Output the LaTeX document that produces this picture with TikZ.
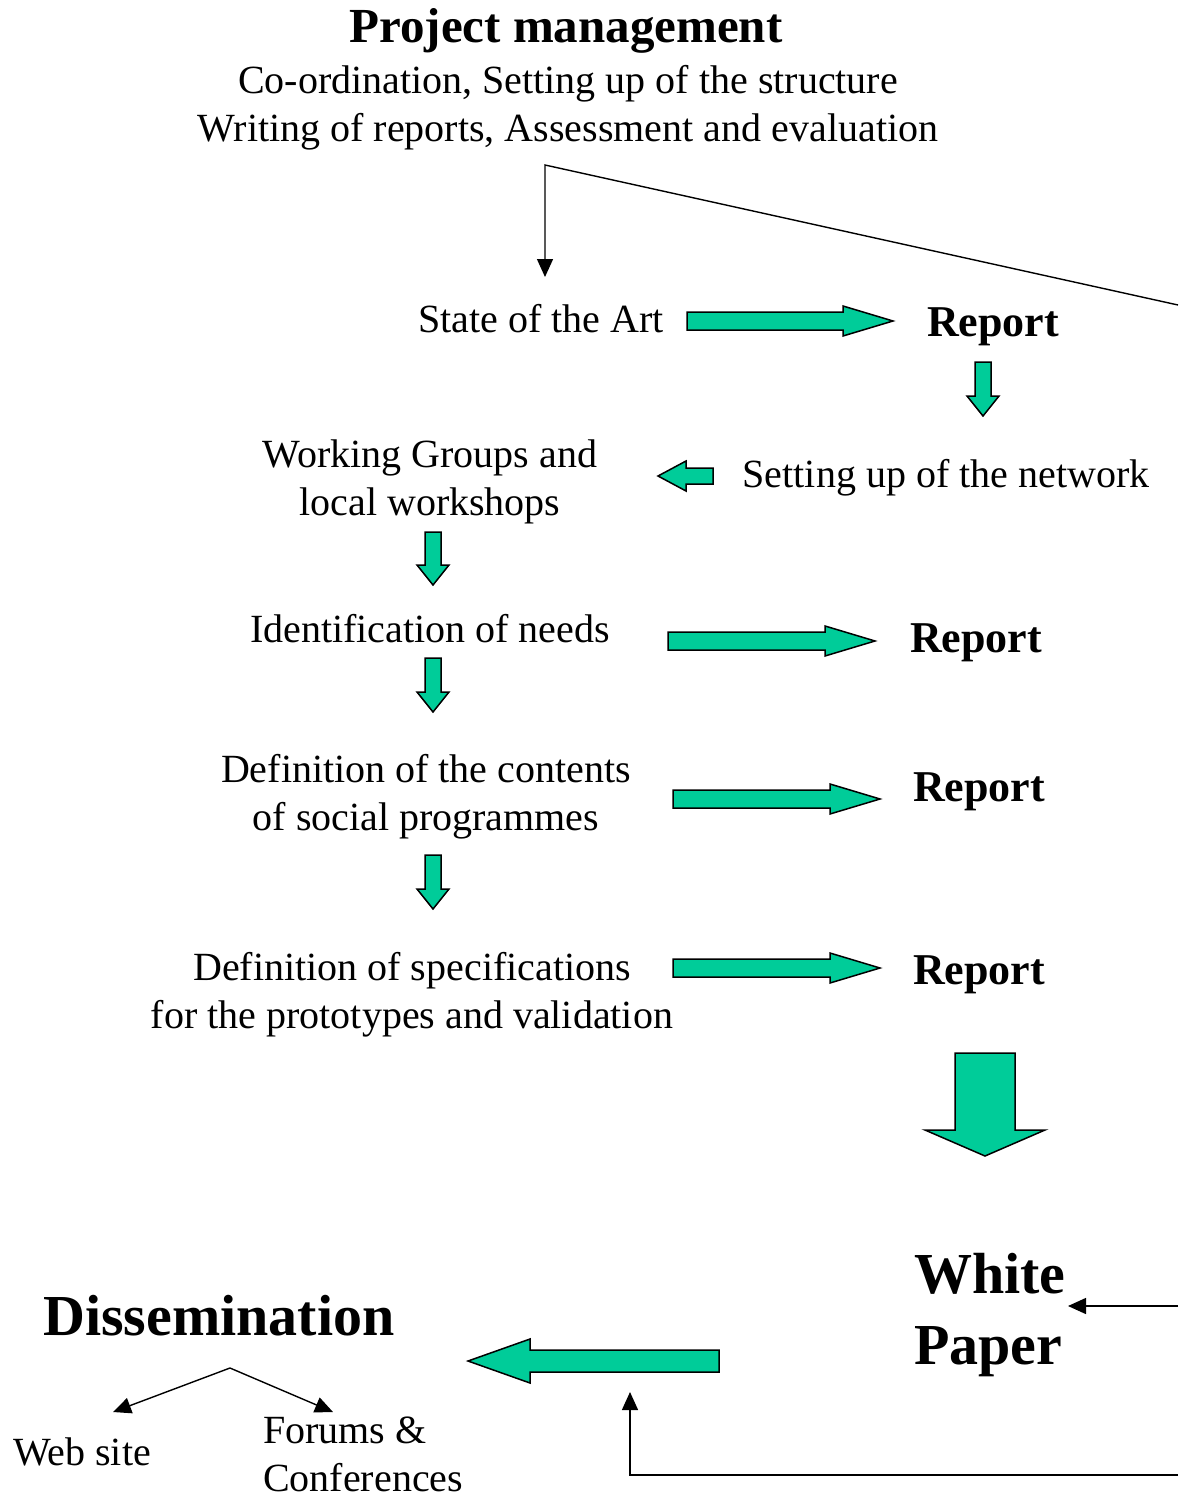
\documentclass[tikz,border=0pt]{standalone}
\usepackage{fontspec}
\setmainfont{Liberation Serif}
\usetikzlibrary{positioning,arrows.meta}
\definecolor{seagreen}{RGB}{0,204,153}
% green block arrow: tail, angle, length, head length, shaft half width, head half width
\newcommand{\garrow}[6]{\draw[blk,shift={#1},rotate=#2] (0,#5) -- ({#3-#4},#5) -- ({#3-#4},#6) -- (#3,0) -- ({#3-#4},-#6) -- ({#3-#4},-#5) -- (0,-#5) -- cycle;}

\begin{document}
\begin{tikzpicture}[x=1pt,y=-1pt,
			txt/.style={font=\fontsize{40}{48}\selectfont,inner sep=0pt,align=center},
			rep/.style={font=\fontsize{44}{50}\selectfont\bfseries,inner sep=0pt},
			big/.style={font=\fontsize{58}{71}\selectfont\bfseries,inner sep=0pt,align=left},
			blk/.style={draw=black,fill=seagreen,line width=1.5pt,line join=miter},
			con/.style={line width=1.4pt,-{Triangle[length=18pt,width=16pt]}}]
			\useasboundingbox (0,0) rectangle (1178,1499);
			% management block
			\node (pm) [anchor=base,font=\fontsize{49}{55}\selectfont\bfseries,inner sep=0pt] at (566,42) {Project management};
			\node (pmsub) [txt] at (568,108) {Co-ordination, Setting up of the structure\\Writing of reports, Assessment and evaluation};
			% work chain
			\node (sota) [txt,anchor=base] at (541,332) {State of the Art};
			\node (rep1) [rep,anchor=base] at (993,336) {Report};
			\node (net) [txt,anchor=base] at (946,487) {Setting up of the network};
			\node (wg) [txt] at (430,482) {Working Groups and\\local workshops};
			\node (needs) [txt,anchor=base] at (430,642) {Identification of needs};
			\node (rep2) [rep,anchor=base] at (976,652) {Report};
			\node (cont) [txt] at (426,797) {Definition of the contents\\of social programmes};
			\node (rep3) [rep,anchor=base] at (979,801) {Report};
			\node (spec) [txt] at (412,995) {Definition of specifications\\for the prototypes and validation};
			\node (rep4) [rep,anchor=base] at (979,984) {Report};
			\node (wp) [big,anchor=west] at (914,1315) {White\\Paper};
			\node (diss) [big,anchor=base] at (219,1335) {Dissemination};
			\node (web) [txt,anchor=base] at (82,1465) {Web site};
			\node (forum) [txt,anchor=west,align=left] at (263,1454) {Forums \&\\Conferences};

			% block arrows
			\garrow{(687,321)}{0}{206}{50}{9}{15}
			\garrow{(983,362)}{-90}{54}{20}{8}{16}
			\garrow{(713,476)}{180}{55}{28}{8}{15}
			\garrow{(433,532)}{-90}{53}{20}{8}{16}
			\garrow{(433,658)}{-90}{54}{20}{8}{16}
			\garrow{(433,855)}{-90}{54}{20}{8}{16}
			\garrow{(668,641)}{0}{207}{50}{9}{15}
			\garrow{(673,799)}{0}{207}{50}{9}{15}
			\garrow{(673,968)}{0}{207}{50}{9}{15}
			\garrow{(985,1053)}{-90}{103}{26}{30}{60}
			\garrow{(719,1361)}{180}{251}{62}{11}{22}

			% thin connectors
			\coordinate (edgetop) at (1178,305);
			\coordinate (bend) at (545,165);
			\coordinate (sotatip) at (545,277);
			\draw[con] (edgetop) -- (bend) -- (sotatip);
			\coordinate (edgewp) at (1178,1306);
			\draw[con] (edgewp) -- (1068,1306);
			\coordinate (edgelow) at (1178,1475);
			\coordinate (corner) at (630,1475);
			\coordinate (feedtip) at (630,1392);
			\draw[con] (edgelow) -- (corner) -- (feedtip);
			\coordinate (apex) at (230,1368);
			\coordinate (webtip) at (113,1412);
			\coordinate (forumtip) at (333,1412);
			\draw[con] (apex) -- (webtip);
			\draw[con] (apex) -- (forumtip);
		\end{tikzpicture}
\end{document}
